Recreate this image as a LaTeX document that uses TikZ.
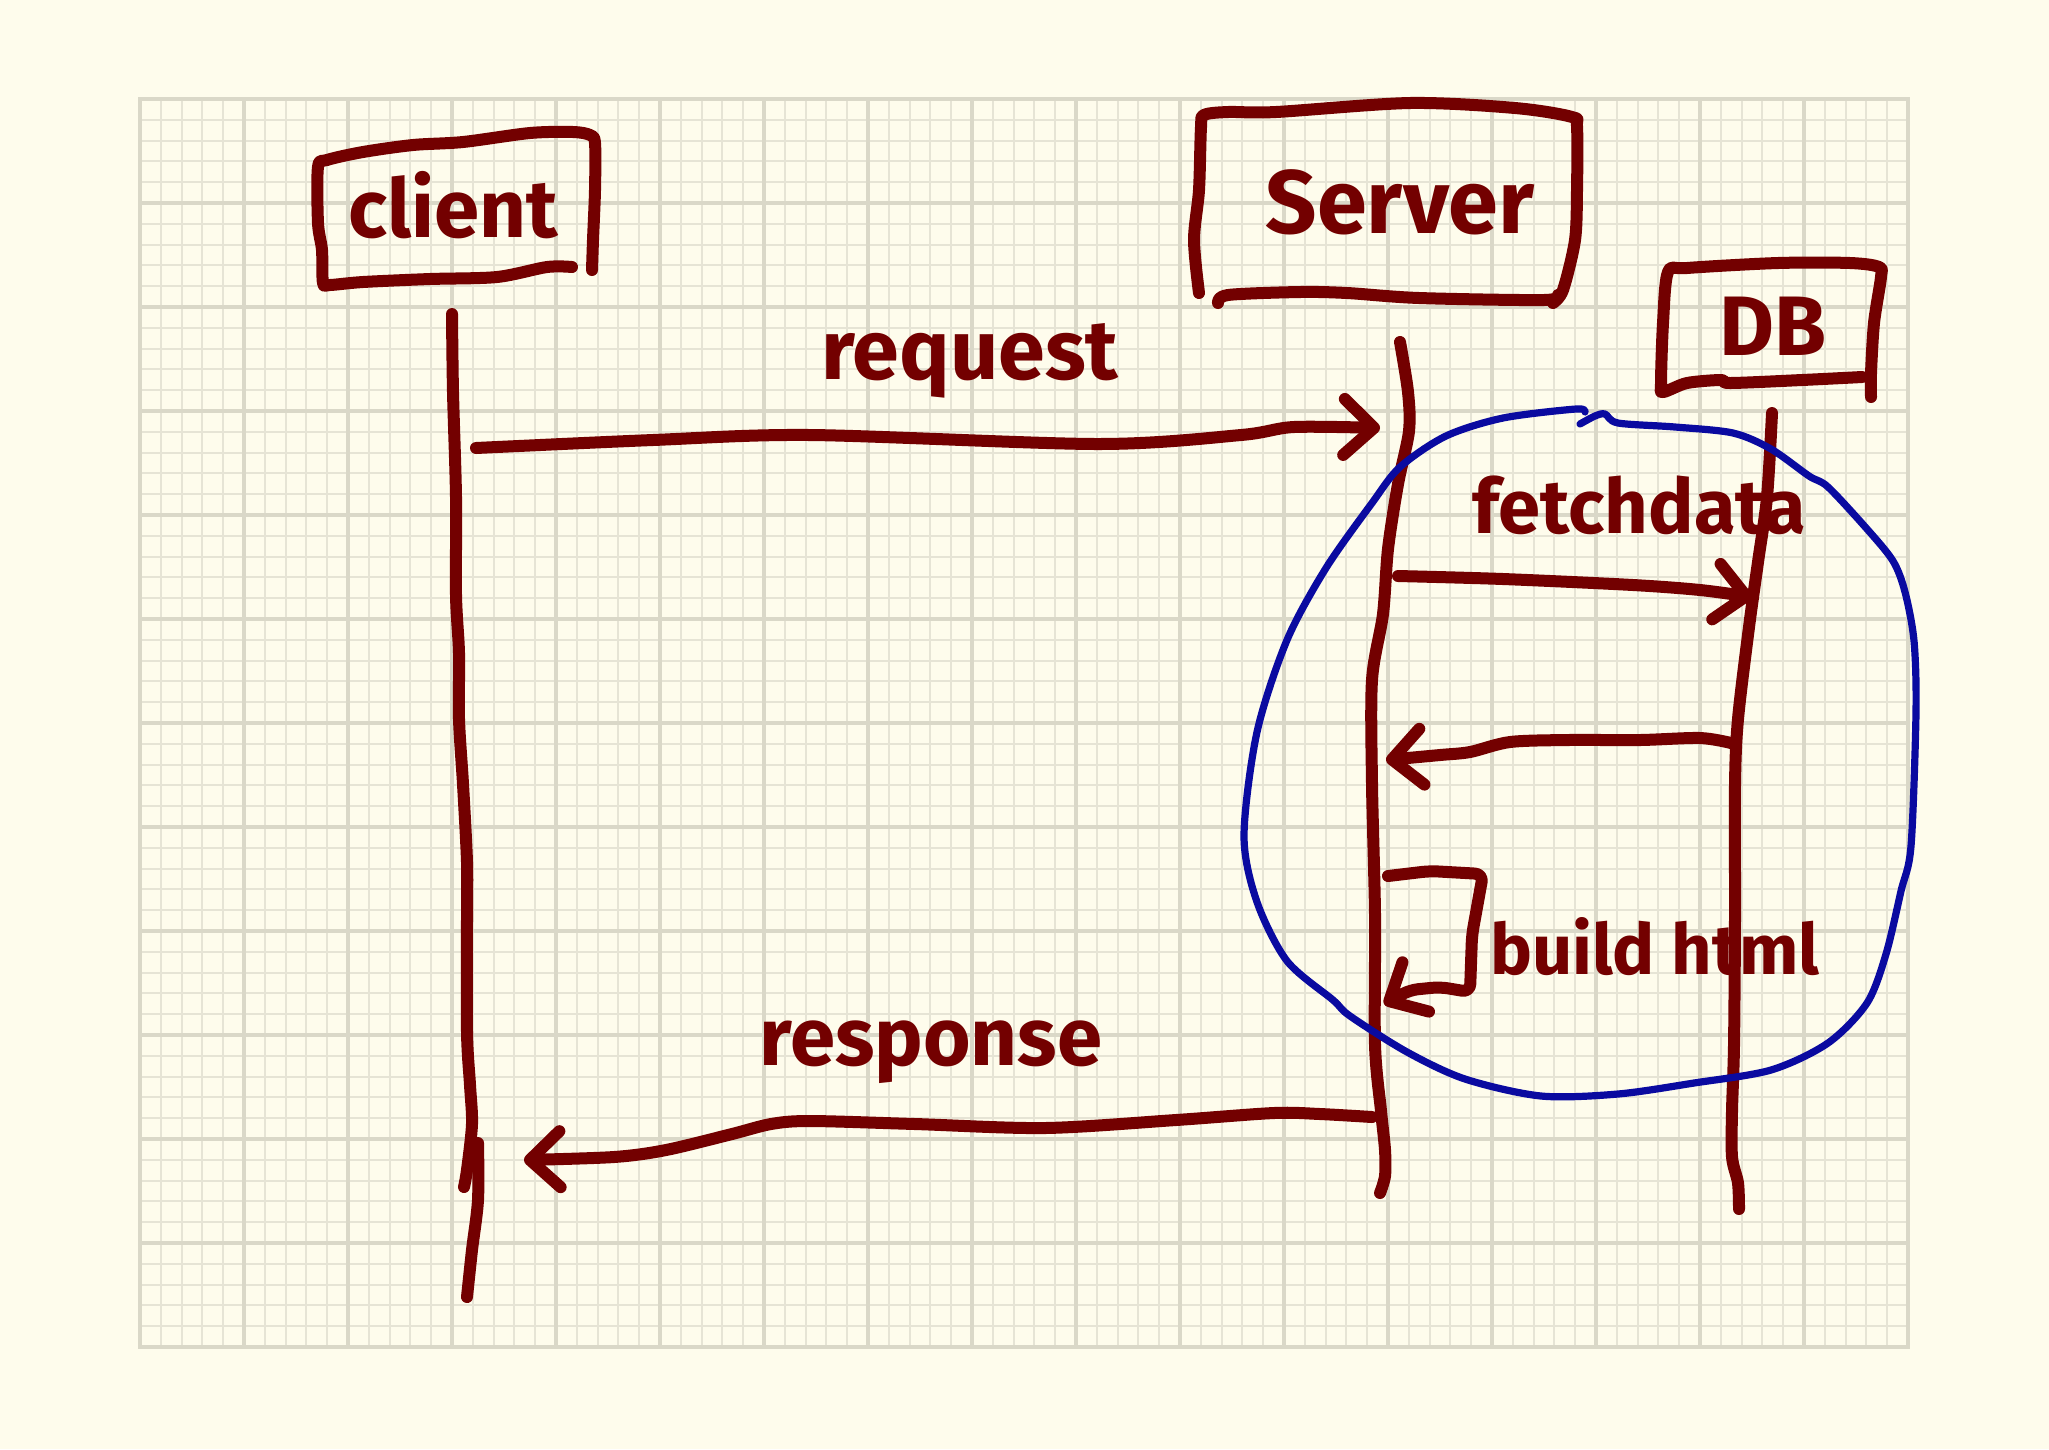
\documentclass[tikz,border=0pt]{standalone}
\usepackage{fontspec}
\setmainfont{Fira Sans}
\usetikzlibrary{arrows.meta}

\definecolor{paper}{HTML}{FEFCEC}
\definecolor{gridminor}{HTML}{E6E4D5}
\definecolor{gridmajor}{HTML}{DAD8C8}
\definecolor{ink}{HTML}{730000}
\definecolor{bluepen}{HTML}{0A0AA0}

\tikzset{
  pen/.style={draw=ink, line width=0.3cm, line cap=round, line join=round},
  msg/.style={pen, -{Straight Barb[length=0.75cm, width=1.4cm, round]}},
  ring/.style={draw=bluepen, line width=0.18cm, line cap=round, line join=round},
  word/.style={text=ink, anchor=base, inner sep=0pt, font=\bfseries\fontsize{#1}{#1}\selectfont},
}

\begin{document}
\begin{tikzpicture}[x=0.025cm, y=-0.025cm]
  \useasboundingbox (0,0) rectangle (2049,1449);
  \fill[paper] (0,0) rectangle (2049,1449);

  \foreach \i in {0,...,85}
    \draw[gridminor, line width=0.05cm] ({140+20.8*\i},99) -- ({140+20.8*\i},1347);
  \foreach \j in {0,...,60}
    \draw[gridminor, line width=0.05cm] (140,{99+20.8*\j}) -- (1908,{99+20.8*\j});
  \foreach \i in {0,5,...,85}
    \draw[gridmajor, line width=0.09cm] ({140+20.8*\i},99) -- ({140+20.8*\i},1347);
  \foreach \j in {0,5,...,60}
    \draw[gridmajor, line width=0.09cm] (140,{99+20.8*\j}) -- (1908,{99+20.8*\j});
  \draw[gridmajor, line width=0.12cm] (140,99) rectangle (1908,1347);

  \node[word=58] (client) at (453,237) {client};
  \node[word=64] (server) at (1400,233) {Server};
  \node[word=60] (db) at (1773,355) {DB};

  \draw[pen] plot[smooth] coordinates {(572,267) (547,267) (497,277) (430,279) (363,282) (330,285) (323,283)
    (322,250) (318,223) (318,167) (327,160) (363,152) (413,145) (463,142) (530,133) (573,132) (590,135)
    (595,143) (595,190) (593,240) (592,270)};
  \draw[pen] plot[smooth] coordinates {(1199,293) (1194,240) (1199,190) (1201,127) (1204,115) (1228,112)
    (1276,112) (1410,103) (1515,108) (1572,117) (1577,127) (1577,190) (1575,240) (1563,290) (1553,303)};
  \draw[pen] plot[smooth] coordinates {(1218,303) (1228,295) (1300,292) (1347,293) (1419,298) (1544,300) (1558,295)};
  \draw[pen] plot[smooth] coordinates {(1871,397) (1871,373) (1874,323) (1881,277) (1879,267) (1850,263)
    (1778,263) (1687,268) (1668,272) (1663,323) (1661,383) (1663,392) (1687,383) (1721,380) (1730,383)
    (1802,380) (1862,377)};

  \coordinate (cl-top) at (452,314);
  \coordinate (cl-mid) at (464,1187);
  \coordinate (cl-low) at (478,1143);
  \coordinate (cl-bot) at (467,1297);
  \coordinate (sv-top) at (1400,342);
  \coordinate (sv-bot) at (1380,1193);
  \coordinate (db-top) at (1772,413);
  \coordinate (db-bot) at (1739,1209);

  \draw[pen] plot[smooth] coordinates {(cl-top) (453,392) (456,497) (456,595) (459,653) (459,719) (463,784)
    (467,862) (467,915) (467,1032) (470,1085) (472,1124) (467,1170) (cl-mid)};
  \draw[pen] plot[smooth] coordinates {(cl-low) (478,1200) (472,1250) (cl-bot)};
  \draw[pen] plot[smooth] coordinates {(sv-top) (1408,392) (1409,431) (1398,484) (1388,549) (1383,614)
    (1372,680) (1372,784) (1375,915) (1375,1045) (1381,1111) (1385,1150) (1385,1176) (sv-bot)};
  \draw[pen] plot[smooth] coordinates {(db-top) (1767,497) (1758,562) (1749,627) (1738,719) (1735,784)
    (1735,915) (1734,1045) (1732,1111) (1732,1157) (1738,1183) (db-bot)};

  \coordinate (req-a) at (476,448);
  \coordinate (req-b) at (1380,428);
  \coordinate (get-a) at (1398,576);
  \coordinate (get-b) at (1752,597);
  \coordinate (ret-a) at (1731,743);
  \coordinate (ret-b) at (1386,760);
  \coordinate (bld-a) at (1388,876);
  \coordinate (bld-b) at (1384,1004);
  \coordinate (res-a) at (1372,1117);
  \coordinate (res-b) at (524,1160);

  \draw[msg] plot[smooth] coordinates {(req-a) (653,440) (810,435) (1098,444) (1241,435) (1294,427) (req-b)};
  \draw[msg] plot[smooth] coordinates {(get-a) (1503,579) (1633,585) (1700,590) (get-b)};
  \draw[msg] plot[smooth] coordinates {(ret-a) (1700,738) (1640,740) (1568,740) (1510,742) (1470,752)
    (1440,755) (ret-b)};
  \draw[msg, rounded corners=0.2cm] (bld-a) -- (1430,871) -- (1483,874) -- (1472,935) -- (1470,992)
    -- (1440,987) -- (1410,990) -- (bld-b);
  \draw[msg] plot[smooth] coordinates {(res-a) (1320,1114) (1274,1113) (1176,1120) (1045,1128) (915,1124)
    (810,1121) (771,1124) (732,1134) (666,1150) (614,1157) (res-b)};

  \node[word=60] (request) at (970,379) {request};
  \node[word=54] (fetchdata) at (1639,533) {fetchdata};
  \node[word=50] (buildhtml) at (1655,974) {build html};
  \node[word=58] (response) at (931,1065) {response};

  \draw[ring] plot[smooth] coordinates {(1580,424) (1595,416) (1605,414) (1618,423) (1675,427) (1733,433)
    (1771,449) (1809,476) (1828,487) (1867,529) (1893,561) (1905,592) (1914,641) (1916,712) (1911,846)
    (1901,891) (1886,954) (1867,1003) (1828,1043) (1771,1070) (1694,1083) (1618,1094) (1541,1096)
    (1465,1079) (1407,1052) (1350,1016) (1333,1000) (1287,961) (1257,902) (1244,836) (1257,732)
    (1287,640) (1326,568) (1372,503) (1400,467) (1446,436) (1503,418) (1576,409) (1585,412)};
\end{tikzpicture}
\end{document}
